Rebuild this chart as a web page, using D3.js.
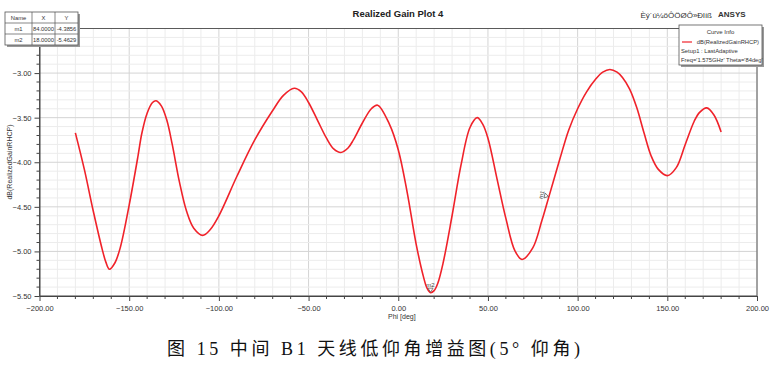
<!DOCTYPE html>
<html><head><meta charset="utf-8">
<script src="https://cdn.jsdelivr.net/npm/d3@7"></script>
<style>
html,body{margin:0;padding:0;background:#fff;}
svg{display:block;}
</style></head>
<body>
<svg id="chart" width="772" height="368"></svg>
<script>
// ---- data ----
const phi = [-180,-175,-170,-165,-163,-161,-158,-155,-150,-145,-143,-140,-137,-135,-132,-129,-126,-122,-118,-114,-109,-105,-100,-90,-80,-70,-64,-58,-54,-50,-45,-40,-36,-32,-28,-25,-20,-15,-11.5,-5,0,5,10,14,16,18,20,22,25,30,35,40,44,47,50,55,60,65,69,75,80,84,90,95,100,105,110,114,118,122,125,129,133,137,141,145,150,155,160,165,168,172,176,180];
const gain = [-3.67,-4.08,-4.55,-4.98,-5.12,-5.20,-5.13,-4.96,-4.48,-3.92,-3.68,-3.45,-3.33,-3.31,-3.37,-3.53,-3.80,-4.22,-4.55,-4.74,-4.82,-4.76,-4.60,-4.16,-3.75,-3.42,-3.25,-3.17,-3.21,-3.33,-3.53,-3.73,-3.85,-3.89,-3.84,-3.75,-3.56,-3.40,-3.36,-3.57,-3.86,-4.34,-4.92,-5.28,-5.41,-5.4629,-5.44,-5.36,-5.13,-4.60,-4.03,-3.61,-3.50,-3.57,-3.73,-4.18,-4.63,-4.99,-5.09,-4.96,-4.66,-4.3856,-3.97,-3.64,-3.40,-3.21,-3.07,-2.99,-2.96,-2.99,-3.05,-3.18,-3.39,-3.67,-3.93,-4.08,-4.15,-4.06,-3.80,-3.54,-3.44,-3.39,-3.47,-3.66];
const xTicks = [-200,-150,-100,-50,0,50,100,150,200];
const yTicks = [-3.0,-3.5,-4.0,-4.5,-5.0,-5.5];
const markerNames = ["m1","m2"];
const markerX = [84.0,18.0];
const markerY = [-4.3856,-5.4629];
const title = "Realized Gain Plot 4";
const xLabel = "Phi [deg]";
const yLabel = "dB(RealizedGainRHCP)";
const legendLines = ["dB(RealizedGainRHCP)","Setup1 : LastAdaptive","Freq='1.575GHz' Theta='84deg'"];
const caption = "图 15  中间 B1 天线低仰角增益图(5°  仰角)";

// ---- layout ----
const SANS = "'Liberation Sans',Arial,sans-serif";
const svg = d3.select("#chart").style("font-family",SANS);
const L = 39.5, R = 757, T = 28.5, B = 296;
const x = d3.scaleLinear().domain([-200,200]).range([L,R]);
const y = d3.scaleLinear().domain([-5.5,-2.5]).range([B,T]);

// grid
const g = svg.append("g");
const minorX = d3.range(-200,201,10);
const minorY = d3.range(0,31).map(i=>-5.5+i*0.1);
g.selectAll(".gx").data(minorX).join("line")
  .attr("x1",d=>x(d)).attr("x2",d=>x(d)).attr("y1",T).attr("y2",B)
  .attr("stroke",d=>Math.abs(d%50)<1e-6?"#d4d4d4":"#ececec").attr("stroke-width",1);
g.selectAll(".gy").data(minorY).join("line")
  .attr("x1",L).attr("x2",R).attr("y1",d=>y(d)).attr("y2",d=>y(d))
  .attr("stroke",(d,i)=>i%5===0?"#d4d4d4":"#ececec").attr("stroke-width",1);

// frame
svg.append("rect").attr("x",L).attr("y",T).attr("width",R-L).attr("height",B-T)
  .attr("fill","none").attr("stroke","#5a5a5a").attr("stroke-width",1);

// axes
const xAxis = d3.axisBottom(x).tickValues(xTicks).tickFormat(d3.format(".2f")).tickSize(5).tickSizeOuter(0);
const xa = svg.append("g").attr("transform",`translate(0,${B})`).call(xAxis);
xa.select(".domain").attr("stroke","#444");
xa.selectAll(".tick line").attr("stroke","#444");
xa.selectAll("text").attr("font-size",7.5).attr("fill","#333").attr("dy","0.9em").style("font-family",SANS);
svg.append("g").attr("transform",`translate(0,${B})`).selectAll("line")
  .data(minorX.filter(d=>d%50!==0)).join("line")
  .attr("x1",d=>x(d)).attr("x2",d=>x(d)).attr("y1",0).attr("y2",3).attr("stroke","#444");

const yAxis = d3.axisLeft(y).tickValues(yTicks).tickFormat(d3.format(".2f")).tickSize(5).tickSizeOuter(0);
const ya = svg.append("g").attr("transform",`translate(${L},0)`).call(yAxis);
ya.select(".domain").attr("stroke","#444");
ya.selectAll(".tick line").attr("stroke","#444");
ya.selectAll("text").attr("font-size",7.5).attr("fill","#333").style("font-family",SANS);
svg.append("g").attr("transform",`translate(${L},0)`).selectAll("line")
  .data(minorY.filter((d,i)=>i%5!==0)).join("line")
  .attr("x1",-3).attr("x2",0).attr("y1",d=>y(d)).attr("y2",d=>y(d)).attr("stroke","#444");

// axis labels
svg.append("text").attr("x",388).attr("y",319).attr("font-size",7).attr("fill","#333").text(xLabel);
svg.append("text").attr("transform","translate(12,162) rotate(-90)").attr("text-anchor","middle")
  .attr("font-size",7).attr("fill","#333").text(yLabel);

// title
svg.append("text").attr("x",398).attr("y",17).attr("text-anchor","middle")
  .attr("font-size",9.5).attr("font-weight","bold").attr("fill","#222").text(title);
svg.append("text").attr("x",712).attr("y",18).attr("text-anchor","end")
  .attr("font-size",8).attr("fill","#333").text("Èý´ú¼öÔÖØÔ»Ðlíß");
svg.append("text").attr("x",718).attr("y",17).attr("font-size",8).attr("font-weight","bold").attr("fill","#333").text("ANSYS");

// curve
const line = d3.line().x((d,i)=>x(phi[i])).y((d,i)=>y(gain[i])).curve(d3.curveCatmullRom.alpha(0.5));
svg.append("path").datum(gain).attr("d",line).attr("fill","none")
  .attr("stroke","#f0222a").attr("stroke-width",1.6);

// markers
markerNames.forEach((n,i)=>{
  const px = x(markerX[i]), py = y(markerY[i]);
  const mg = svg.append("g").attr("transform",`translate(${px},${py})`);
  if(i===0){
    mg.attr("transform",`translate(${px},${py}) rotate(-75)`);
  }
  mg.append("path").attr("d","M-2.5,-4.5 L2.5,-4.5 L0,-0.5 Z").attr("fill","none").attr("stroke","#555").attr("stroke-width",0.7);
  mg.append("text").attr("x",0).attr("y",-5.5).attr("text-anchor","middle").attr("font-size",6).attr("fill","#444").text(n);
});

// marker table
const tb = svg.append("g");
const tx = 5, ty = 12, cw = [27,23,23], rh = 11;
tb.append("rect").attr("x",tx+2).attr("y",ty+2).attr("width",73).attr("height",33).attr("fill","#999");
tb.append("rect").attr("x",tx).attr("y",ty).attr("width",73).attr("height",33).attr("fill","#fff").attr("stroke","#555").attr("stroke-width",0.8);
const rows = [["Name","X","Y"]].concat(markerNames.map((n,i)=>[n,markerX[i].toFixed(4),markerY[i].toFixed(4)]));
rows.forEach((r,ri)=>{
  let cx = tx;
  r.forEach((c,ci)=>{
    tb.append("text").attr("x",cx+cw[ci]/2).attr("y",ty+ri*rh+7.8).attr("text-anchor","middle")
      .attr("font-size",5.8).attr("fill","#333").text(c);
    cx += cw[ci];
  });
  if(ri>0) tb.append("line").attr("x1",tx).attr("x2",tx+73).attr("y1",ty+ri*rh).attr("y2",ty+ri*rh).attr("stroke","#555").attr("stroke-width",0.7);
});
[tx+cw[0], tx+cw[0]+cw[1]].forEach(v=>tb.append("line").attr("x1",v).attr("x2",v).attr("y1",ty).attr("y2",ty+33).attr("stroke","#555").attr("stroke-width",0.7));

// curve info legend
const lg = svg.append("g");
const lx = 679, ly = 25, lw = 83, lh = 40;
lg.append("rect").attr("x",lx+2).attr("y",ly+2).attr("width",lw).attr("height",lh).attr("fill","#999");
lg.append("rect").attr("x",lx).attr("y",ly).attr("width",lw).attr("height",lh).attr("fill","#fff").attr("stroke","#555").attr("stroke-width",0.8);
lg.append("text").attr("x",lx+lw/2).attr("y",ly+9).attr("text-anchor","middle").attr("font-size",6).attr("fill","#333").text("Curve Info");
lg.append("line").attr("x1",lx+3).attr("x2",lx+13).attr("y1",ly+17).attr("y2",ly+17).attr("stroke","#f0222a").attr("stroke-width",1.2);
lg.append("text").attr("x",lx+lw-3).attr("y",ly+19).attr("text-anchor","end").attr("font-size",5.8).attr("fill","#333").text(legendLines[0]);
lg.append("text").attr("x",lx+2).attr("y",ly+28).attr("font-size",5.8).attr("fill","#333").text(legendLines[1]);
lg.append("text").attr("x",lx+2).attr("y",ly+37).attr("font-size",5.8).attr("fill","#333").text(legendLines[2]);

// caption
svg.append("text").attr("x",167).attr("y",355)
  .style("font-family","'Liberation Serif','Noto Sans CJK SC',serif").attr("font-size",18).attr("fill","#111")
  .attr("textLength",413).attr("lengthAdjust","spacing")
  .text(caption);
</script>
</body></html>
